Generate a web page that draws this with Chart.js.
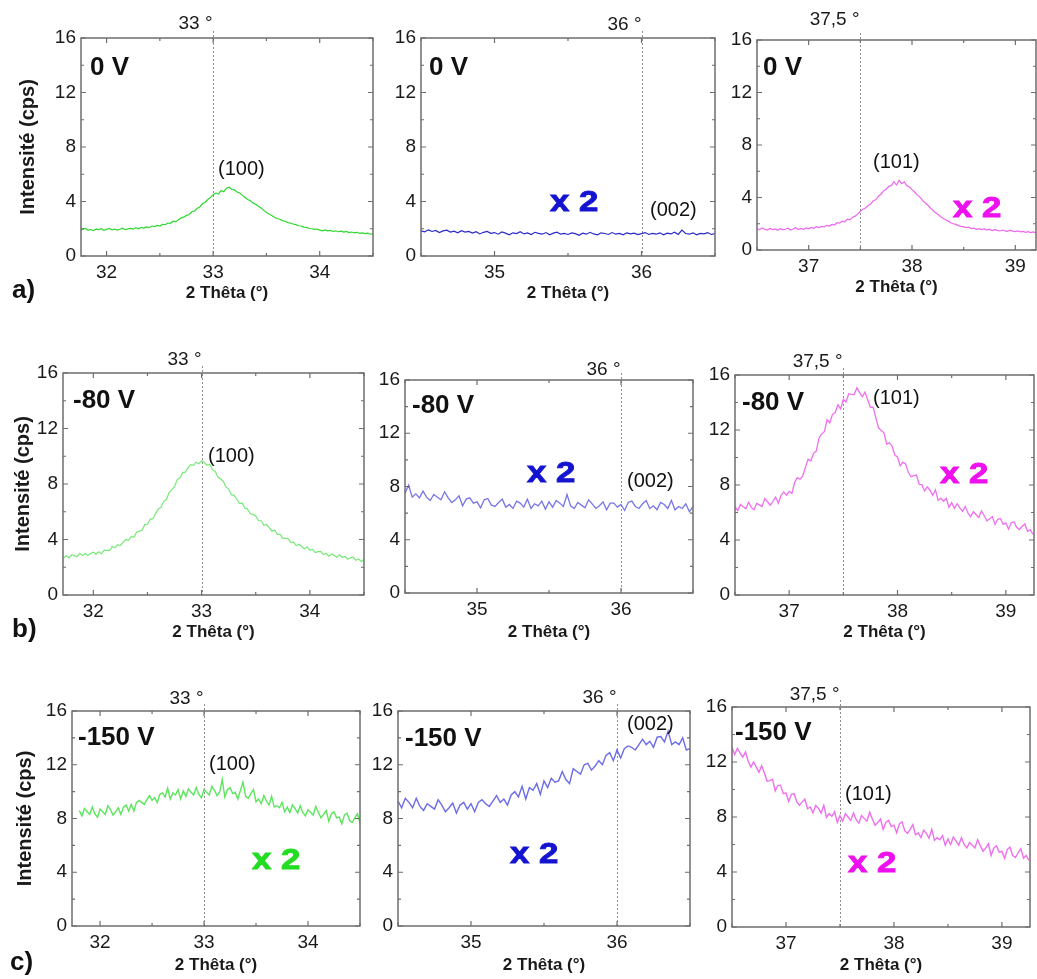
<!DOCTYPE html>
<html>
<head>
<meta charset="utf-8">
<title>DRX - 2 Thêta</title>
<script src="https://cdn.jsdelivr.net/npm/chart.js@4/dist/chart.umd.min.js"></script>
<style>
    html, body { margin: 0; padding: 0; background: #fff; overflow: hidden; }
    #figure { position: relative; width: 1037px; height: 979px; overflow: hidden; }
    .panel { position: absolute; }
    .panel canvas { display: block; }
    .note { position: absolute; white-space: nowrap; line-height: 1; transform: translateY(-50%);
            font-family: 'Liberation Sans', Arial, sans-serif; color: #111; z-index: 5; }
    .volt { font-weight: bold; font-size: 26px; }
    .hkl { font-size: 20px; }
    .mult { font-weight: bold; font-size: 29px; -webkit-text-stroke: 0.9px currentColor;
            transform-origin: 0 50%; transform: translateY(-50%) scaleX(1.2); }
    .row { font-weight: bold; font-size: 26px; }
</style>
</head>
<body>
<div id="figure"></div>
<script>
// sampling step of the scans (2 Thêta, degrees)
const STEP = 0.025;

const voltages = ['0 V', '-80 V', '-150 V'];
const rowLetters = ['a)', 'b)', 'c)'];
const peakLabels = ['(100)', '(002)', '(101)'];
const refAngles = [33, 36, 37.5];
const refAngleLabels = ['33 °', '36 °', '37,5 °'];

// x range of every panel (row by row)
const xMin = [31.76, 34.5, 36.5, 31.72, 34.5, 36.5, 31.73, 34.5, 36.5];
const xMax = [34.5, 36.5, 39.2, 34.5, 36.5, 39.26, 34.5, 36.5, 39.26];

// first 2 Thêta of each scan
const start0V = [31.70, 34.50, 36.50];
const start80V = [31.70, 34.50, 36.50];
const start150V = [31.80, 34.50, 36.50];

// panels marked "x 2"
const timesTwo = [false, true, true, false, true, true, true, true, true];

// intensities (cps)
const cps0V_100 = [
    1.92, 1.98, 1.88, 1.95, 2.02, 1.9, 1.94, 1.86, 1.97, 1.93, 2.0, 1.89, 1.95, 2.03, 1.92, 1.98, 1.9, 1.96, 2.04, 1.93, 1.99,
    2.02, 1.97, 2.08, 2.0, 2.1, 2.05, 2.14, 2.08, 2.2, 2.16, 2.25, 2.2, 2.33, 2.3, 2.42, 2.4, 2.55, 2.52, 2.66, 2.8,
    2.85, 2.98, 3.05, 3.25, 3.3, 3.5, 3.6, 3.85, 3.95, 4.15, 4.3, 4.5,
    4.62, 4.55, 4.8, 4.72, 4.98, 5.05, 4.88, 4.85, 4.7, 4.62, 4.45, 4.3,
    4.15, 4.05, 3.88, 3.8, 3.65, 3.52, 3.35, 3.2, 3.08, 2.98, 2.85, 2.75,
    2.7, 2.6, 2.55, 2.45, 2.42, 2.35, 2.3, 2.22, 2.2, 2.12, 2.1, 2.02,
    2.0, 1.95, 1.98, 1.9, 1.85, 1.92, 1.84, 1.88, 1.8, 1.85, 1.78, 1.82, 1.75, 1.8, 1.72, 1.76, 1.7, 1.74, 1.66, 1.7, 1.64, 1.68, 1.6, 1.62
];
const cps0V_002 = [
    1.85, 1.78, 1.92, 1.8, 1.88, 1.72, 1.84, 1.9, 1.76, 1.82, 1.7, 1.86, 1.75, 1.8, 1.68, 1.78, 1.62, 1.74, 1.8, 1.66,
    1.72, 1.6, 1.76, 1.68, 1.55, 1.7, 1.64, 1.78, 1.62, 1.7, 1.58, 1.74, 1.66, 1.6, 1.72, 1.56, 1.68, 1.75, 1.6, 1.66,
    1.58, 1.7, 1.64, 1.52, 1.68, 1.6, 1.74, 1.62, 1.56, 1.7, 1.65, 1.58, 1.72, 1.6, 1.66, 1.55, 1.7, 1.62, 1.68, 1.57,
    1.64, 1.72, 1.58, 1.66, 1.6, 1.7, 1.55, 1.68, 1.62, 1.75, 1.58, 1.9, 1.65, 1.6, 1.7, 1.56, 1.66, 1.62, 1.72, 1.58, 1.64
];
const cps0V_101 = [
    1.62, 1.55, 1.68, 1.58, 1.52, 1.64, 1.56, 1.6, 1.5, 1.62, 1.55, 1.58, 1.66, 1.52, 1.6, 1.7, 1.56, 1.64, 1.58, 1.68,
    1.62, 1.72, 1.65, 1.78, 1.7, 1.8, 1.76, 1.88, 1.82, 1.95, 1.9, 2.08, 2.05, 2.2, 2.15, 2.35, 2.3, 2.5, 2.58, 2.75,
    2.95, 3.1, 3.2, 3.4, 3.5, 3.75, 3.82, 4.1, 4.25, 4.5, 4.62, 4.85, 4.9, 5.2, 4.95, 5.3, 5.05, 5.2, 4.9, 4.8,
    4.6, 4.42, 4.2, 4.05, 3.8, 3.6, 3.45, 3.22, 3.05, 2.85, 2.72, 2.55, 2.42, 2.3, 2.2, 2.08, 2.0, 1.95, 1.86, 1.8,
    1.76, 1.7, 1.74, 1.62, 1.66, 1.58, 1.62, 1.55, 1.6, 1.52, 1.58, 1.48, 1.55, 1.5, 1.45, 1.52, 1.46, 1.42, 1.5, 1.44,
    1.4, 1.46, 1.38, 1.42, 1.35, 1.4, 1.32, 1.38, 1.3, 1.36, 1.3
];
const cps80V_100 = [
    2.82, 2.67, 2.83, 2.68, 2.9, 2.84, 2.76, 3.0, 2.85, 2.99, 2.84, 2.99, 3.08, 2.94, 3.11, 2.98, 3.23, 3.22, 3.2, 3.5,
    3.41, 3.63, 3.56, 3.81, 4.0, 3.94, 4.21, 4.18, 4.53, 4.6, 4.66, 5.07, 5.1, 5.45, 5.5, 5.88, 6.2, 6.32, 6.75, 6.88,
    7.38, 7.6, 7.8, 8.32, 8.45, 8.82, 8.85, 9.18, 9.4, 9.34, 9.57, 9.46, 9.68, 9.55, 9.35, 9.42, 9.05, 8.92, 8.5, 8.38,
    8.2, 7.77, 7.65, 7.23, 7.18, 6.9, 6.6, 6.62, 6.25, 6.19, 5.85, 5.81, 5.7, 5.37, 5.35, 5.03, 5.08, 4.85, 4.6, 4.68,
    4.37, 4.37, 4.08, 4.09, 4.05, 3.77, 3.81, 3.55, 3.66, 3.5, 3.32, 3.47, 3.23, 3.29, 3.06, 3.13, 3.15, 2.92, 3.01, 2.8,
    2.96, 2.85, 2.72, 2.9, 2.7, 2.79, 2.58, 2.68, 2.72, 2.5, 2.6, 2.4, 2.58
];
const cps80V_002 = [
    7.5, 8.1, 7.2, 7.45, 7.15, 7.65, 7.2, 6.95, 7.4, 7.2, 7.0, 7.6, 7.15, 6.8, 7.0, 7.3, 6.55, 7.05, 7.15, 6.75,
    6.85, 6.4, 7.0, 7.1, 6.6, 6.5, 6.8, 7.05, 6.45, 6.65, 6.35, 6.9, 6.75, 6.45, 7.05, 6.35, 6.7, 6.55, 6.9, 6.3,
    6.85, 6.45, 6.95, 6.75, 6.5, 7.4, 6.55, 6.35, 6.8, 6.6, 6.4, 7.0, 6.7, 6.35, 6.55, 6.85, 6.25, 6.75, 6.75, 6.45,
    6.65, 6.2, 6.8, 6.9, 6.5, 6.35, 6.7, 6.95, 6.35, 6.55, 6.25, 6.8, 6.65, 6.35, 6.95, 6.25, 6.5, 6.35, 6.7, 6.1, 6.5
];
const cps80V_101 = [
    6.42, 6.13, 6.59, 6.42, 6.28, 6.75, 6.37, 6.2, 6.66, 6.55, 6.44, 7.01, 6.78, 6.53, 6.81, 7.12, 6.68, 7.24, 7.49, 7.26,
    7.54, 7.39, 8.16, 8.53, 8.42, 8.65, 9.28, 9.87, 9.74, 10.3, 10.47, 11.4, 11.72, 11.88, 12.75, 12.51, 13.14, 13.27, 13.84, 13.53,
    14.22, 14.05, 14.64, 14.59, 14.58, 15.07, 14.72, 14.42, 14.76, 14.2, 13.64, 13.66, 12.88, 12.16, 11.96, 11.8, 10.98, 11.07, 10.84, 10.18,
    10.04, 9.39, 9.66, 9.53, 8.92, 8.6, 8.68, 8.72, 8.04, 8.02, 7.57, 7.87, 7.62, 7.25, 7.65, 6.88, 7.04, 6.82, 7.04, 6.38,
    6.72, 6.3, 6.64, 6.34, 6.08, 6.44, 5.97, 5.69, 6.06, 5.85, 5.64, 6.11, 5.78, 5.39, 5.53, 5.7, 5.13, 5.5, 5.56, 5.14,
    5.24, 4.79, 5.26, 5.33, 4.92, 4.75, 4.98, 5.17, 4.64, 4.75, 4.42
];
const cps150V_100 = [
    8.6, 8.2, 8.75, 8.5, 8.3, 8.85, 8.35, 8.1, 8.7, 8.5, 8.3, 8.95, 8.65, 8.25, 8.5, 8.8,
    8.3, 8.85, 9.0, 8.55, 9.05, 8.55, 9.2, 9.35, 9.2, 9.05, 9.4, 9.7, 9.35, 9.55, 9.2, 9.8,
    9.9, 9.6, 10.25, 9.45, 9.9, 9.75, 10.15, 9.45, 10.05, 9.65, 10.2, 9.95, 9.75, 10.3, 9.8, 9.55,
    10.15, 9.95, 9.75, 10.4, 10.1, 9.7, 9.95, 10.9, 9.6, 10.15, 10.3, 9.85, 9.95, 9.45, 10.1, 10.7,
    9.65, 9.5, 9.85, 10.15, 9.25, 9.45, 9.1, 9.7, 9.3, 9.0, 9.65, 8.85, 8.95, 8.8, 9.2, 8.5,
    8.85, 8.45, 9.0, 8.75, 8.4, 8.95, 8.45, 8.2, 8.65, 8.45, 8.25, 8.9, 8.45, 8.05, 8.3, 8.6,
    7.8, 8.35, 8.5, 8.05, 8.1, 7.6, 8.25, 8.4, 7.85, 7.7, 8.05, 8.35, 7.65
];
const cps150V_002 = [
    9.3, 8.8, 9.5, 9.2, 8.8, 9.5, 8.9, 8.6, 9.1, 8.9, 8.7, 9.4, 9.0, 8.5, 8.8, 9.15,
    8.4, 9.0, 9.2, 8.7, 9.1, 8.5, 9.2, 9.4, 9.1, 8.9, 9.3, 9.7, 9.2, 9.45, 9.0, 9.75,
    10.0, 9.6, 10.4, 9.45, 10.3, 10.1, 10.6, 9.8, 10.8, 10.3, 11.0, 10.7, 10.8, 11.5, 10.9, 10.6,
    11.7, 11.5, 11.3, 12.0, 12.1, 11.6, 11.9, 12.3, 12.0, 12.7, 12.9, 12.3, 13.1, 12.5, 13.2, 13.4,
    13.3, 13.1, 13.5, 13.9, 13.5, 13.75, 13.3, 14.05, 14.1, 13.7, 14.5, 13.5, 13.7, 13.5, 14.0, 13.1, 13.2
];
const cps150V_101 = [
    13.05, 12.55, 13.0, 12.65, 12.35, 12.73, 12.05, 11.63, 12.0, 11.63, 11.25, 11.73, 11.2, 10.6, 10.65, 10.75,
    9.9, 10.3, 10.3, 9.7, 9.75, 9.13, 9.65, 9.68, 9.1, 8.85, 9.1, 9.3, 8.6, 8.73, 8.3, 8.83,
    8.65, 8.28, 8.85, 7.98, 8.25, 8.04, 8.38, 7.61, 8.1, 7.7, 8.25, 8.0, 7.75, 8.3, 7.8, 7.55,
    8.1, 7.9, 7.7, 8.35, 7.85, 7.4, 7.6, 7.85, 7.1, 7.6, 7.75, 7.3, 7.4, 6.85, 7.5, 7.65,
    7.0, 6.8, 7.1, 7.45, 6.7, 6.85, 6.5, 7.05, 6.8, 6.45, 7.1, 6.3, 6.5, 6.35, 6.65, 5.95,
    6.4, 6.0, 6.55, 6.25, 5.95, 6.5, 6.0, 5.75, 6.15, 5.95, 5.75, 6.35, 5.9, 5.5, 5.75, 6.05,
    5.2, 5.75, 5.9, 5.45, 5.5, 5.0, 5.65, 5.8, 5.2, 5.05, 5.4, 5.7, 5.0, 5.2, 4.85
];

const series = [cps0V_100, cps0V_002, cps0V_101, cps80V_100, cps80V_002, cps80V_101, cps150V_100, cps150V_002, cps150V_101];
const starts = [start0V, start80V, start150V];

// ---- styles and layout ----
const lineColors = ['#2ed82e', '#2a2ac8', '#ee66ee', '#78e878', '#7676e8', '#ee70ee', '#5ce65c', '#6c6ce8', '#ee70ee'];
const lineWidths = [1.2, 1.2, 1.2, 1.2, 1.3, 1.3, 1.4, 1.4, 1.4];
const multColors = ['#22dd22', '#1414d0', '#ee10ee'];

// plot areas in page pixels
const boxes = [
    { l: 81, t: 38, r: 373, b: 256 }, { l: 421, t: 38, r: 715, b: 256 }, { l: 757, t: 40, r: 1036, b: 250 },
    { l: 63, t: 373, r: 364, b: 595 }, { l: 405, t: 380, r: 693, b: 593 }, { l: 735, t: 375, r: 1034, b: 595 },
    { l: 72, t: 711, r: 360, b: 926 }, { l: 398, t: 711, r: 690, b: 926 }, { l: 732, t: 707, r: 1030, b: 927 }
];
const voltPos = [[90, 66], [429, 66], [763, 66], [73, 399], [412, 404], [742, 401], [78, 736], [405, 737], [735, 731]];
const hklPos = [[218, 168], [650, 209], [873, 161], [208, 455], [627, 480], [873, 397], [209, 763], [627, 723], [845, 793]];
const multPos = [null, [550, 201], [953, 207], null, [527, 472], [940, 473], [252, 859], [510, 853], [848, 862]];
const rowPos = [[12, 289], [12, 628], [10, 961]];
const degDy = [14.5, 13.5, 20, 13, 10, 13.5, 12, 13.5, 12];
const xTitleY = [293, 293, 287, 632, 632, 632, 965, 965, 965];
const yTitleX = [28, 23, 25];

const PAD_TOP = 40;
const PAD_RIGHT = 8;
const X_AXIS_H = 50;
const FONT = "'Liberation Sans', Arial, sans-serif";

Chart.defaults.font.family = FONT;
Chart.defaults.color = '#1a1a1a';

const fig = document.getElementById('figure');

function addNote(text, cls, pos, color) {
    const d = document.createElement('div');
    d.className = 'note ' + cls;
    d.textContent = text;
    d.style.left = pos[0] + 'px';
    d.style.top = pos[1] + 'px';
    if (color) d.style.color = color;
    fig.appendChild(d);
}

function isWhole(v) {
    return Math.abs(v - Math.round(v)) < 1e-6;
}

// frame, inner ticks, dashed reference line and its label
const framePlugin = {
    id: 'frame',
    beforeDatasetsDraw(chart, args, opts) {
        const { ctx, chartArea: a, scales: { x } } = chart;
        const px = Math.round(x.getPixelForValue(opts.refX)) + 0.5;
        ctx.save();
        ctx.strokeStyle = '#8f8f8f';
        ctx.lineWidth = 1;
        ctx.setLineDash([2, 2]);
        ctx.beginPath();
        ctx.moveTo(px, a.top - 7);
        ctx.lineTo(px, a.bottom);
        ctx.stroke();
        ctx.setLineDash([]);
        ctx.fillStyle = '#1a1a1a';
        ctx.font = '19px ' + FONT;
        ctx.textAlign = 'right';
        ctx.textBaseline = 'middle';
        ctx.fillText(opts.refLabel, px - 1, a.top - opts.labelDy);
        ctx.restore();
    },
    afterDatasetsDraw(chart) {
        const { ctx, chartArea: a, scales: { x, y } } = chart;
        ctx.save();
        ctx.strokeStyle = '#6e6e6e';
        ctx.lineWidth = 1.2;
        ctx.beginPath();
        x.ticks.forEach(t => {
            const p = x.getPixelForValue(t.value);
            const len = t.label ? 5 : 3;
            ctx.moveTo(p, a.bottom); ctx.lineTo(p, a.bottom - len);
            ctx.moveTo(p, a.top); ctx.lineTo(p, a.top + len);
        });
        y.ticks.forEach(t => {
            const p = y.getPixelForValue(t.value);
            const len = t.label ? 5 : 3;
            ctx.moveTo(a.left, p); ctx.lineTo(a.left + len, p);
            ctx.moveTo(a.right, p); ctx.lineTo(a.right - len, p);
        });
        ctx.stroke();
        ctx.lineWidth = 1.5;
        ctx.strokeRect(a.left, a.top, a.right - a.left, a.bottom - a.top);
        ctx.restore();
    }
};

for (let r = 0; r < 3; r++) {
    for (let c = 0; c < 3; c++) {
        const k = r * 3 + c;
        const box = boxes[k];
        const yw = c === 0 ? 80 : 60;
        const w = box.r - box.l + yw + PAD_RIGHT;
        const h = box.b - box.t + PAD_TOP + X_AXIS_H;

        const div = document.createElement('div');
        div.className = 'panel';
        div.style.left = (box.l - yw) + 'px';
        div.style.top = (box.t - PAD_TOP) + 'px';
        div.style.width = w + 'px';
        div.style.height = h + 'px';
        const cv = document.createElement('canvas');
        cv.width = w;
        cv.height = h;
        div.appendChild(cv);
        fig.appendChild(div);

        const x0 = starts[r][c];
        const pts = series[k].map((v, i) => ({ x: +(x0 + i * STEP).toFixed(3), y: v }));

        const xPadBottom = box.b + X_AXIS_H - 17 * 1.2 / 2 - xTitleY[k];
        const yPadTop = yTitleX[r] - (box.l - yw) - 20 * 1.2 / 2;

        new Chart(cv, {
            type: 'line',
            data: {
                datasets: [{
                    data: pts,
                    borderColor: lineColors[k],
                    borderWidth: lineWidths[k],
                    pointRadius: 0,
                    tension: 0
                }]
            },
            options: {
                responsive: false,
                animation: false,
                devicePixelRatio: 1,
                events: [],
                layout: { padding: { top: PAD_TOP, right: PAD_RIGHT, left: 0, bottom: 0 } },
                plugins: {
                    legend: { display: false },
                    tooltip: { enabled: false },
                    frame: { refX: refAngles[c], refLabel: refAngleLabels[c], labelDy: degDy[k] }
                },
                scales: {
                    x: {
                        type: 'linear',
                        min: xMin[k],
                        max: xMax[k],
                        grid: { display: false, drawTicks: false },
                        border: { display: false },
                        ticks: {
                            stepSize: 0.5,
                            includeBounds: false,
                            autoSkip: false,
                            maxRotation: 0,
                            padding: 5,
                            font: { size: 19 },
                            callback: v => isWhole(v) ? String(Math.round(v)) : ''
                        },
                        title: {
                            display: true,
                            text: '2 Thêta (°)',
                            font: { size: 17, weight: 'bold' },
                            padding: { top: 0, bottom: xPadBottom }
                        },
                        afterFit: s => { s.height = X_AXIS_H; }
                    },
                    y: {
                        min: 0,
                        max: 16,
                        grid: { display: false, drawTicks: false },
                        border: { display: false },
                        ticks: {
                            stepSize: 2,
                            autoSkip: false,
                            padding: 5,
                            font: { size: 19 },
                            callback: v => v % 4 === 0 ? String(v) : ''
                        },
                        title: {
                            display: c === 0,
                            text: 'Intensité (cps)',
                            font: { size: 20, weight: 'bold' },
                            padding: { top: yPadTop, bottom: 0 }
                        },
                        afterFit: s => { s.width = yw; }
                    }
                }
            },
            plugins: [framePlugin]
        });

        addNote(voltages[r], 'volt', voltPos[k]);
        addNote(peakLabels[c], 'hkl', hklPos[k]);
        if (timesTwo[k]) addNote('x 2', 'mult', multPos[k], multColors[c]);
    }
    addNote(rowLetters[r], 'row', rowPos[r]);
}
</script>
</body>
</html>
